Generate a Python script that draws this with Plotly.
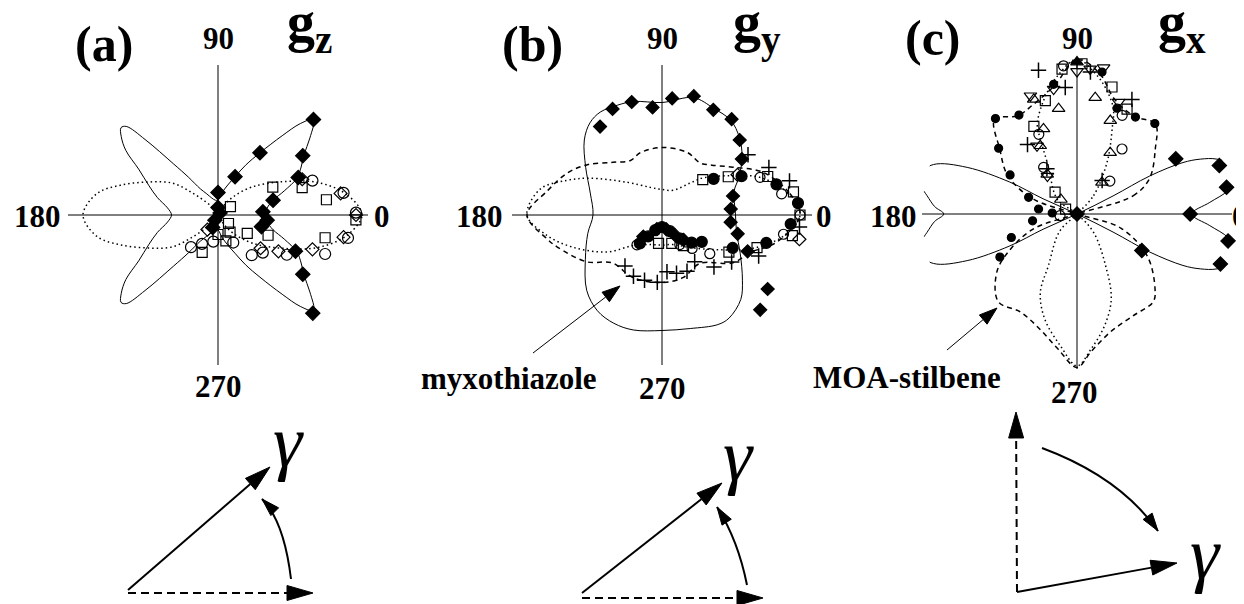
import math
import plotly.graph_objects as go

W, H = 1244, 604
OFF = 8  # page body margin of the exported html; layout positions below are screen pixels
SERIF = "Liberation Serif"

# ---------------- panel (a): g_z ----------------
A_SOLID_T = [0, 8, 15, 20, 25, 30, 35, 40, 45, 48, 51, 56, 61, 66, 72, 80, 90,
             100, 110, 118, 124, 128, 131, 134, 136, 138, 141, 145, 150, 157, 164, 172, 180,
             188, 196, 203, 210, 215, 219, 222, 224, 226, 229, 232, 236, 242, 250, 260, 270,
             280, 288, 294, 299, 304, 309, 312, 315, 320, 325, 330, 335, 340, 345, 352, 360]
A_SOLID_R = [0.31, 0.33, 0.38, 0.47, 0.58, 0.64, 0.70, 0.80, 0.90, 0.82, 0.68, 0.50, 0.38, 0.28, 0.21, 0.15, 0.10,
             0.10, 0.12, 0.16, 0.21, 0.32, 0.45, 0.70, 0.85, 0.87, 0.83, 0.75, 0.61, 0.50, 0.42, 0.34, 0.31,
             0.34, 0.42, 0.50, 0.61, 0.75, 0.83, 0.87, 0.85, 0.70, 0.45, 0.32, 0.21, 0.16, 0.12, 0.10, 0.10,
             0.15, 0.21, 0.28, 0.38, 0.50, 0.68, 0.82, 0.90, 0.80, 0.70, 0.64, 0.58, 0.47, 0.38, 0.33, 0.31]
A_DOT_T = [0, 9, 18, 27, 39, 50, 58, 90, 122, 132, 139, 145, 155, 163, 170, 180,
           190, 197, 205, 215, 221, 228, 238, 270, 302, 310, 321, 333, 342, 351, 360]
A_DOT_R = [0.96, 0.87, 0.70, 0.49, 0.30, 0.16, 0.07, 0.0, 0.05, 0.11, 0.22, 0.37, 0.52, 0.68, 0.82, 0.90,
           0.82, 0.68, 0.52, 0.37, 0.22, 0.11, 0.05, 0.0, 0.07, 0.16, 0.30, 0.49, 0.70, 0.87, 0.96]
A_FD_T = [90, 66, 56, 45, 35, 25, 15, 4, 354, 345, 335, 325, 314, 90, 45, 239, 247]
A_FD_R = [0.15, 0.28, 0.50, 0.90, 0.69, 0.59, 0.38, 0.30, 0.33, 0.30, 0.57, 0.69, 0.91, 0.05, 0.02, 0.04, 0.09]
A_SQ_T = [27, 18, 8, 358, 348, 338, 328, 34, 321, 305, 287, 270, 247]
A_SQ_R = [0.41, 0.59, 0.73, 0.92, 0.73, 0.36, 0.23, 0.10, 0.09, 0.14, 0.18, 0.13, 0.27]
A_CI_T = [20, 10, 1, 350, 340, 330, 320, 310, 299, 260, 241, 230]
A_CI_R = [0.67, 0.85, 0.92, 0.88, 0.76, 0.53, 0.39, 0.35, 0.21, 0.18, 0.22, 0.28]
A_OD_T = [23, 10, 0, 350, 340, 329, 322, 234]
A_OD_R = [0.61, 0.83, 0.92, 0.85, 0.67, 0.47, 0.36, 0.12]

# ---------------- panel (b): g_y ----------------
B_SOLID_T = [0, 10, 19, 26, 36, 45, 54, 64, 75, 90, 104, 112, 121, 128, 136, 148, 163, 180,
             194, 210, 225, 236, 246, 256, 270, 284, 297, 303, 313, 321, 334, 347, 360]
B_SOLID_R = [0.49, 0.49, 0.51, 0.57, 0.66, 0.73, 0.78, 0.79, 0.81, 0.75, 0.78, 0.79, 0.80, 0.78, 0.72, 0.60, 0.50, 0.46,
             0.51, 0.59, 0.71, 0.77, 0.79, 0.79, 0.77, 0.78, 0.82, 0.82, 0.77, 0.69, 0.58, 0.51, 0.49]
B_DASH_T = [0, 10, 23, 34, 45, 54, 68, 90, 109, 120, 133, 146, 156, 168, 180,
            192, 197, 212, 224, 245, 270, 289, 308, 326, 337, 347, 360]
B_DASH_R = [0.92, 0.86, 0.73, 0.57, 0.47, 0.43, 0.45, 0.45, 0.44, 0.42, 0.48, 0.60, 0.69, 0.78, 0.90,
            0.78, 0.73, 0.59, 0.46, 0.46, 0.45, 0.44, 0.41, 0.57, 0.64, 0.79, 0.92]
B_DOT_T = [0, 10, 21, 29, 42, 49, 66, 90, 113, 137, 153, 160, 168, 180,
           190, 200, 214, 228, 250, 270, 290, 313, 329, 339, 350, 360]
B_DOT_R = [0.92, 0.85, 0.70, 0.54, 0.37, 0.28, 0.18, 0.17, 0.20, 0.32, 0.54, 0.675, 0.83, 0.90,
           0.78, 0.63, 0.44, 0.27, 0.21, 0.20, 0.21, 0.30, 0.45, 0.63, 0.82, 0.92]
B_FD_T = [125, 115, 105, 95, 85, 75, 64, 54, 44, 35, 15, 5, 354, 346, 337, 325, 316, 229, 250, 287, 303, 311]
B_FD_R = [0.72, 0.78, 0.78, 0.72, 0.78, 0.82, 0.78, 0.79, 0.72, 0.65, 0.49, 0.46, 0.46, 0.52, 0.62, 0.86, 0.91,
          0.19, 0.10, 0.10, 0.16, 0.22]
B_FC_T = [35, 26, 15, 5, 356, 345, 335, 232, 237, 246, 270, 296, 308, 317, 326]
B_FC_R = [0.42, 0.59, 0.79, 0.91, 0.86, 0.72, 0.52, 0.24, 0.17, 0.11, 0.08, 0.12, 0.20, 0.27, 0.32]
B_SQ_T = [41, 30, 20, 10, 0, 351, 341, 331, 263, 289, 305]
B_SQ_R = [0.36, 0.51, 0.75, 0.89, 0.92, 0.88, 0.67, 0.51, 0.19, 0.20, 0.25]
B_CI_T = [21, 10, 0, 351, 321, 230, 312, 301]
B_CI_R = [0.70, 0.81, 0.92, 0.82, 0.41, 0.26, 0.30, 0.23]
B_PL_T = [35, 24, 15, 355, 337, 326, 315, 305, 294, 284, 275, 266, 255, 245, 234]
B_PL_R = [0.70, 0.78, 0.88, 0.92, 0.70, 0.56, 0.49, 0.38, 0.41, 0.40, 0.38, 0.45, 0.45, 0.45, 0.42]
B_OD_T = [350, 28]
B_OD_R = [0.93, 0.57]

# ---------------- panel (c): g_x ----------------
C_SOLID_T = [0, 5, 9, 13, 17, 21.4, 24, 25.9, 27.6, 26.6, 0,
             204.2, 205.4, 203, 199, 194, 190, 187, 183, 180, 177, 173, 170, 166, 161, 157, 154.6, 155.8, 0,
             333.4, 332.4, 334.1, 336, 338.6, 343, 347, 351, 355, 360]
C_SOLID_R = [0.74, 0.86, 0.99, 1.05, 1.06, 0.97, 0.87, 0.76, 0.53, 0.26, 0.0,
             0.24, 0.48, 0.77, 0.98, 1.05, 1.02, 0.975, 0.92, 0.86, 0.92, 0.975, 1.02, 1.05, 0.98, 0.77, 0.48, 0.24, 0.0,
             0.26, 0.53, 0.76, 0.87, 0.97, 1.06, 1.05, 0.99, 0.86, 0.74]
C_DASH_T = [0, 18, 26, 40, 49, 60, 72, 81, 90, 100, 112, 121, 131, 140, 151, 161, 0,
            342, 329, 316, 311, 299, 286, 276, 270, 262, 252, 240, 228, 216, 209, 199, 0]
C_DASH_R = [0.0, 0.38, 0.52, 0.66, 0.77, 0.73, 0.78, 0.92, 1.0, 0.84, 0.76, 0.74, 0.81, 0.65, 0.51, 0.30, 0.0,
            0.30, 0.53, 0.70, 0.75, 0.75, 0.79, 0.89, 0.99, 0.88, 0.78, 0.73, 0.76, 0.64, 0.51, 0.30, 0.0]
C_DOT_T = [0, 48, 60, 68, 71, 77, 83, 90, 98, 106, 114, 116, 121, 143, 0,
           312, 299, 292, 284, 276, 270, 263, 253, 245, 241, 225, 0]
C_DOT_R = [0.0, 0.16, 0.39, 0.61, 0.72, 0.83, 0.92, 1.0, 0.90, 0.77, 0.63, 0.54, 0.36, 0.16, 0.0,
           0.16, 0.38, 0.59, 0.74, 0.875, 0.98, 0.86, 0.71, 0.56, 0.38, 0.16, 0.0]
C_FC_T = [130.5, 120.4, 100.2, 80, 69.3, 58.9, 49.3, 140, 149.7, 161, 172.6, 177.7, 188.7, 199.7, 209.2, 0]
C_FC_R = [0.81, 0.74, 0.85, 0.93, 0.73, 0.73, 0.77, 0.66, 0.50, 0.33, 0.25, 0.16, 0.29, 0.45, 0.57, 0.0]
C_FD_T = [29.2, 18.8, 10.1, 0, 349.9, 340.8, 330.6, 0]
C_FD_R = [0.73, 0.97, 0.98, 0.73, 0.99, 0.98, 0.48, 0.0]
C_FT_T = [90]
C_FT_R = [0.98]
C_TU_T = [99.9, 111.5, 118.3, 126.9, 138, 81.1, 70.4, 61.6, 51.7, 110.7]
C_TU_R = [0.69, 0.59, 0.50, 0.32, 0.14, 0.76, 0.64, 0.45, 0.26, 0.79]
C_TD_T = [90, 79.7, 111.5, 100.6, 120.4, 128, 69.6, 84.8]
C_TD_R = [0.92, 0.96, 0.82, 0.82, 0.51, 0.31, 0.77, 0.94]
C_SQ_T = [95.9, 88.1, 105.6, 116.2, 74.6, 64.5, 135, 156.9]
C_SQ_R = [0.94, 0.97, 0.76, 0.63, 0.85, 0.75, 0.20, 0.08]
C_CI_T = [95.2, 65.4, 55.3, 45, 115.6, 125.6, 185.8]
C_CI_R = [0.96, 0.70, 0.51, 0.30, 0.57, 0.37, 0.11]
C_PL_T = [105, 95.3, 125.5, 64.4, 84.6, 53.1, 123.7]
C_PL_R = [0.96, 0.82, 0.55, 0.82, 0.92, 0.27, 0.35]

AXIS_TICKS = [0, 90, 180, 270]
AXIS_LABELS = ["0", "90", "180", "270"]
PANEL_LABELS = ["(a)", "(b)", "(c)"]
G_LABELS = ["g<sub>z</sub>", "g<sub>y</sub>", "g<sub>x</sub>"]

fig = go.Figure()


def curve(sub, t, r, dash, width):
    fig.add_trace(go.Scatterpolar(theta=t, r=r, mode="lines", subplot=sub, cliponaxis=False,
                                  line=dict(color="black", width=width, dash=dash, shape="spline", smoothing=1.0),
                                  showlegend=False, hoverinfo="skip"))


def marks(sub, t, r, symbol, size, lw=1.2):
    fig.add_trace(go.Scatterpolar(theta=t, r=r, mode="markers", subplot=sub, cliponaxis=False,
                                  marker=dict(symbol=symbol, size=size, color="black",
                                              line=dict(color="black", width=lw)),
                                  showlegend=False, hoverinfo="skip"))


DOT = "1.5px,3px"
DASH = "5px,4px"

# (a)
curve("polar", A_SOLID_T, A_SOLID_R, "solid", 1)
curve("polar", A_DOT_T, A_DOT_R, DOT, 1.5)
marks("polar", A_SQ_T, A_SQ_R, "square-open", 10)
marks("polar", A_CI_T, A_CI_R, "circle-open", 11)
marks("polar", A_OD_T, A_OD_R, "diamond-open", 10)
marks("polar", A_FD_T, A_FD_R, "diamond", 11)

# (b)
curve("polar2", B_SOLID_T, B_SOLID_R, "solid", 1)
curve("polar2", B_DASH_T, B_DASH_R, DASH, 1.5)
curve("polar2", B_DOT_T, B_DOT_R, DOT, 1.5)
marks("polar2", B_SQ_T, B_SQ_R, "square-open", 10)
marks("polar2", B_CI_T, B_CI_R, "circle-open", 10)
marks("polar2", B_OD_T, B_OD_R, "diamond-open", 10)
marks("polar2", B_PL_T, B_PL_R, "cross-thin-open", 11, 1.5)
marks("polar2", B_FC_T, B_FC_R, "circle", 11)
marks("polar2", B_FD_T, B_FD_R, "diamond", 10)

# (c)
curve("polar3", C_SOLID_T, C_SOLID_R, "solid", 1)
curve("polar3", C_DASH_T, C_DASH_R, DASH, 1.5)
curve("polar3", C_DOT_T, C_DOT_R, DOT, 1.5)
marks("polar3", C_TU_T, C_TU_R, "triangle-up-open", 11)
marks("polar3", C_TD_T, C_TD_R, "triangle-down-open", 11)
marks("polar3", C_SQ_T, C_SQ_R, "square-open", 10)
marks("polar3", C_CI_T, C_CI_R, "circle-open", 10)
marks("polar3", C_PL_T, C_PL_R, "cross-thin-open", 11, 1.5)
marks("polar3", C_FC_T, C_FC_R, "circle", 8)
marks("polar3", C_FT_T, C_FT_R, "triangle-up", 11)
marks("polar3", C_FD_T, C_FD_R, "diamond", 11)


def polar_layout(cx, cy, R):
    cx, cy = cx - OFF, cy - OFF
    return dict(
        domain=dict(x=[(cx - R) / W, (cx + R) / W], y=[1 - (cy + R) / H, 1 - (cy - R) / H]),
        bgcolor="white",
        radialaxis=dict(range=[0, 1], showgrid=False, showline=False, showticklabels=False, ticks=""),
        angularaxis=dict(tickmode="array", tickvals=AXIS_TICKS, showticklabels=False,
                         showgrid=True, gridcolor="black", gridwidth=1, showline=False, ticks="",
                         rotation=0, direction="counterclockwise"),
    )


def P(x, y):
    return (x - OFF) / W, 1 - (y - OFF) / H


shapes = []
annotations = []


def seg(p0, p1, dash="solid", width=2):
    x0, y0 = P(*p0)
    x1, y1 = P(*p1)
    shapes.append(dict(type="line", xref="paper", yref="paper", x0=x0, y0=y0, x1=x1, y1=y1,
                       line=dict(color="black", width=width, dash=dash)))


def head(tip, frm, length, width):
    dx, dy = tip[0] - frm[0], tip[1] - frm[1]
    L = math.hypot(dx, dy)
    ux, uy = dx / L, dy / L
    bx, by = tip[0] - ux * length, tip[1] - uy * length
    px, py = -uy * width / 2, ux * width / 2
    pts = [tip, (bx + px, by + py), (bx - px, by - py)]
    path = "M " + " L ".join("%.5f,%.5f" % P(*p) for p in pts) + " Z"
    shapes.append(dict(type="path", xref="paper", yref="paper", path=path,
                       fillcolor="black", line=dict(color="black", width=1)))
    return (bx, by)


def arrow(p0, tip, dash="solid", width=2, hl=26, hw=15):
    base = head(tip, p0, hl, hw)
    seg(p0, base, dash, width)


def curved(p0, ctrl, tip, width=2, hl=18, hw=11):
    path = "M %.5f,%.5f Q %.5f,%.5f %.5f,%.5f" % (P(*p0) + P(*ctrl) + P(*tip))
    shapes.append(dict(type="path", xref="paper", yref="paper", path=path,
                       line=dict(color="black", width=width)))
    head(tip, ctrl, hl, hw)


def text(x, y, s, size, bold=True, xanchor="center", yanchor="middle"):
    fx, fy = P(x, y)
    annotations.append(dict(x=fx, y=fy, xref="paper", yref="paper", text=s, showarrow=False,
                            xanchor=xanchor, yanchor=yanchor,
                            font=dict(family=SERIF, size=size, color="black",
                                      weight="bold" if bold else "normal")))


# angular axis labels (0 / 90 / 180 / 270) for each panel
AXIS_LABEL_POS = [
    [(382, 217), (218, 38), (38, 217), (218, 386)],
    [(824, 217), (662, 38), (479, 217), (662, 388)],
    [(1240, 217), (1077, 38), (893, 217), (1074, 392)],
]
for pos in AXIS_LABEL_POS:
    for (x, y), lab in zip(pos, AXIS_LABELS):
        text(x, y, lab, 31)

# panel labels
text(104, 44, PANEL_LABELS[0], 50)
text(532, 44, PANEL_LABELS[1], 50)
text(933, 38, PANEL_LABELS[2], 50)
text(285, 26, G_LABELS[0], 56, xanchor="left")
text(731, 26, G_LABELS[1], 56, xanchor="left")
text(1156, 26, G_LABELS[2], 56, xanchor="left")

# side labels with pointers
text(509, 378, "myxothiazole", 31)
arrow((533, 353), (620, 286), width=1, hl=18, hw=12)
text(907, 377, "MOA-stilbene", 31)
arrow((947, 350), (997, 308), width=1, hl=18, hw=12)

# schematic (a)
arrow((128, 593), (313, 593), dash="8px,5px")
arrow((128, 590), (270, 467))
curved((291, 579), (284, 521), (262, 499))
text(288, 441, "<i>γ</i>", 74, bold=False)
# schematic (b)
arrow((582, 598), (763, 598), dash="8px,5px")
arrow((582, 593), (722, 483))
curved((747, 585), (738, 540), (717, 507))
text(738, 455, "<i>γ</i>", 74, bold=False)
# schematic (c)
arrow((1017, 592), (1016, 412), dash="8px,5px")
arrow((1017, 592), (1177, 563))
curved((1042, 448), (1120, 477), (1158, 531))
text(1205, 553, "<i>γ</i>", 74, bold=False)

fig.update_layout(
    width=W, height=H,
    margin=dict(l=0, r=0, t=0, b=0),
    paper_bgcolor="white", plot_bgcolor="white",
    showlegend=False,
    polar=polar_layout(218, 215, 150),
    polar2=polar_layout(662, 215, 150),
    polar3=polar_layout(1077, 214, 155),
    shapes=shapes,
    annotations=annotations,
)

fig.write_html("out.html")
